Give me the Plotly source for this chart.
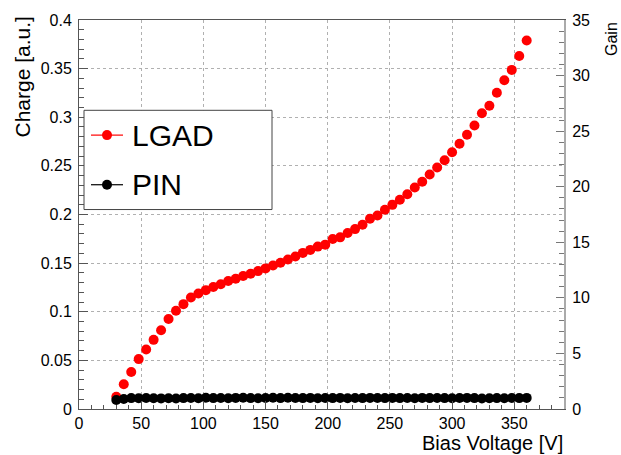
import plotly.graph_objects as go

# Bias voltage scan [V]
bias_voltage = [30, 36, 42, 48, 54, 60, 66, 72, 78, 84, 90, 96, 102, 108, 114, 120,
                126, 132, 138, 144, 150, 156, 162, 168, 174, 180, 186, 192, 198, 204,
                210, 216, 222, 228, 234, 240, 246, 252, 258, 264, 270, 276, 282, 288,
                294, 300, 306, 312, 318, 324, 330, 336, 342, 348, 354, 360]

# Collected charge [a.u.]
lgad_charge = [0.0125, 0.0255, 0.0380, 0.0513, 0.0612, 0.0711, 0.0809, 0.0925,
               0.1010, 0.1078, 0.1146, 0.1187, 0.1222, 0.1255, 0.1282, 0.1316,
               0.1340, 0.1367, 0.1390, 0.1418, 0.1446, 0.1476, 0.1503, 0.1537,
               0.1568, 0.1605, 0.1636, 0.1670, 0.1690, 0.1748, 0.1765, 0.1810,
               0.1850, 0.1895, 0.1956, 0.1990, 0.2048, 0.2099, 0.2152, 0.2209,
               0.2278, 0.2337, 0.2411, 0.2483, 0.2558, 0.2640, 0.2728, 0.2820,
               0.2915, 0.3041, 0.3119, 0.3252, 0.3381, 0.3487, 0.3630, 0.3789]

pin_charge = [0.0092, 0.0103, 0.0112, 0.0110, 0.0113, 0.0110, 0.0109, 0.0111,
              0.0108, 0.0112, 0.0113, 0.0110, 0.0115, 0.0112, 0.0113, 0.0111,
              0.0114, 0.0116, 0.0112, 0.0111, 0.0113, 0.0115, 0.0112, 0.0116,
              0.0113, 0.0112, 0.0114, 0.0111, 0.0113, 0.0112, 0.0114, 0.0111,
              0.0113, 0.0112, 0.0114, 0.0113, 0.0112, 0.0114, 0.0112, 0.0113,
              0.0111, 0.0114, 0.0112, 0.0113, 0.0112, 0.0111, 0.0113, 0.0114,
              0.0112, 0.0108, 0.0110, 0.0112, 0.0111, 0.0113, 0.0112, 0.0114]

series_names = ["LGAD", "PIN"]
series_colors = ["#ff0000", "#000000"]

W, H = 621, 455
L, R, T, B = 79, 57, 17, 46
PW, PH = W - L - R, H - T - B
FONT = "Liberation Sans, Arial, Helvetica, sans-serif"


def px(x):
    return (x - L) / PW


def py(y):
    return (H - B - y) / PH


fig = go.Figure()
fig.add_trace(go.Scatter(x=bias_voltage, y=lgad_charge, mode="markers",
                         name=series_names[0], showlegend=False,
                         marker=dict(color=series_colors[0], size=10, symbol="circle")))
fig.add_trace(go.Scatter(x=bias_voltage, y=pin_charge, mode="markers",
                         name=series_names[1], showlegend=False,
                         marker=dict(color=series_colors[1], size=10, symbol="circle")))
# anchor trace for the gain axis
fig.add_trace(go.Scatter(x=[None], y=[None], yaxis="y2", showlegend=False,
                         hoverinfo="skip", mode="markers"))

axis_common = dict(
    ticks="inside", tickcolor="#555555", tickfont=dict(family=FONT, size=16, color="black"),
    showline=True, linecolor="#555555", linewidth=1, zeroline=False,
)

fig.update_layout(
    width=W, height=H,
    margin=dict(l=L, r=R, t=T, b=B, pad=0),
    paper_bgcolor="white", plot_bgcolor="white",
    font=dict(family=FONT, color="black"),
    showlegend=False,
    xaxis=dict(range=[0, 390], tick0=0, dtick=50, ticklen=8,
               minor=dict(ticks="inside", ticklen=4, dtick=10, tickcolor="#555555", showgrid=False),
               showgrid=True, gridcolor="#b0b0b0", griddash="dot", gridwidth=1,
               mirror=True, **axis_common),
    yaxis=dict(range=[0, 0.4], tick0=0, dtick=0.05, ticklen=9,
               minor=dict(ticks="inside", ticklen=5, dtick=0.01, tickcolor="#555555", showgrid=False),
               showgrid=True, gridcolor="#b0b0b0", griddash="dot", gridwidth=1,
               ticklabelstandoff=3, **axis_common),
    yaxis2=dict(range=[0, 35], tick0=0, dtick=5, overlaying="y", side="right",
                ticks="inside", ticklen=8, tickcolor="#777777",
                minor=dict(ticks="inside", ticklen=5, dtick=1, tickcolor="#777777", showgrid=False),
                showgrid=False, showline=True, linecolor="#aaaaaa", linewidth=2,
                zeroline=False, ticklabelstandoff=3,
                tickfont=dict(family=FONT, size=16, color="black")),
)

annotations = [
    dict(text="Charge [a.u.]", textangle=-90, x=px(23), y=py(12), xanchor="center",
         yanchor="top", font=dict(size=21)),
    dict(text="Bias Voltage [V]", x=px(564), y=py(455), xanchor="right",
         yanchor="bottom", borderpad=0, font=dict(size=20)),
    dict(text="Gain", textangle=-90, x=px(611), y=py(17), xanchor="center",
         yanchor="top", font=dict(size=16)),
]

# Legend box, drawn above the grid
shapes = [dict(type="rect", xref="paper", yref="paper",
               x0=px(84), x1=px(272), y0=py(208), y1=py(108),
               fillcolor="white", line=dict(color="#444444", width=1), layer="above")]

legend_rows = [133, 183]
for name, color, yc in zip(series_names, series_colors, legend_rows):
    shapes.append(dict(type="line", xref="paper", yref="paper",
                       x0=px(91), x1=px(123), y0=py(yc), y1=py(yc),
                       line=dict(color=color, width=1.2), layer="above"))
    shapes.append(dict(type="circle", xref="paper", yref="paper",
                       xsizemode="pixel", ysizemode="pixel",
                       xanchor=px(107), yanchor=py(yc),
                       x0=-5, x1=5, y0=-5, y1=5,
                       fillcolor=color, line=dict(color=color, width=0), layer="above"))
    annotations.append(dict(text=name, x=px(130), y=py(yc), xanchor="left",
                            yanchor="middle", font=dict(size=30)))

for a in annotations:
    a.update(xref="paper", yref="paper", showarrow=False)

fig.update_layout(annotations=annotations, shapes=shapes)

fig.write_html("out.html")
